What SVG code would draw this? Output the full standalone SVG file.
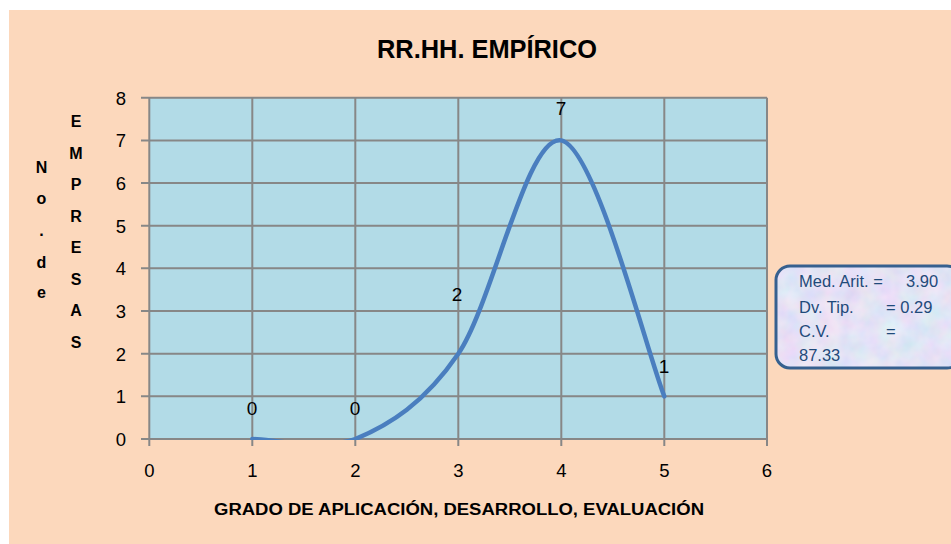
<svg xmlns="http://www.w3.org/2000/svg" width="951" height="544" viewBox="0 0 951 544">
<style>
.tick{font-family:"Liberation Sans",Arial,sans-serif;font-size:18.5px;fill:#000}
.lbl{font-family:"Liberation Sans",Arial,sans-serif;font-size:19px;fill:#000;text-anchor:middle}
.ylab{font-family:"Liberation Sans",Arial,sans-serif;font-size:16px;font-weight:bold;fill:#000;text-anchor:middle}
.grid{stroke:#878787;stroke-width:2;fill:none}
.box{font-family:"Liberation Sans",Arial,sans-serif;font-size:16.5px;fill:#1F4A7A}
</style>
<defs>
<clipPath id="plotclip"><rect x="149" y="97" width="619" height="343"/></clipPath>
<clipPath id="boxclip"><rect x="776" y="266" width="185" height="102" rx="14"/></clipPath>
<linearGradient id="boxg" x1="0" y1="0" x2="1" y2="1">
<stop offset="0" stop-color="#D3DCF2"/>
<stop offset="0.4" stop-color="#DCD3EE"/>
<stop offset="0.7" stop-color="#CFE1F2"/>
<stop offset="1" stop-color="#DED0EC"/>
</linearGradient>
<filter id="tex" x="0" y="0" width="1" height="1">
<feTurbulence type="fractalNoise" baseFrequency="0.05" numOctaves="3" seed="7"/>
<feColorMatrix type="matrix" values="0.6 0 0 0 0.55  0 0.35 0 0 0.65  0 0 0.25 0 0.82  0 0 0 0 0.6"/>
</filter>
</defs>
<rect x="0" y="0" width="951" height="544" fill="#FFFFFF"/>
<rect x="9" y="10" width="942" height="534" fill="#FCD8BC"/>
<text x="487" y="58" font-family="'Liberation Sans',Arial,sans-serif" font-size="26" font-weight="bold" text-anchor="middle" textLength="220" lengthAdjust="spacingAndGlyphs">RR.HH. EMPÍRICO</text>
<g id="plot">
<rect x="149.3" y="97.7" width="617.7" height="341.3" fill="#B2DBE7"/>
<g class="grid">
<path d="M141 97.7H767 M141 140.4H767 M141 183H767 M141 225.7H767 M141 268.3H767 M141 311H767 M141 353.7H767 M141 396.3H767 M141 439H767"/>
<path d="M252.3 97.7V446 M355.3 97.7V446 M458.3 97.7V446 M561.3 97.7V446 M664.3 97.7V446 M767 97.7V446 M149.3 97.7V446"/>
</g>
</g>
<g id="yticks" class="tick" text-anchor="end">
<text x="126" y="105">8</text>
<text x="126" y="147.2">7</text>
<text x="126" y="189.8">6</text>
<text x="126" y="232.5">5</text>
<text x="126" y="275.1">4</text>
<text x="126" y="317.8">3</text>
<text x="126" y="360.5">2</text>
<text x="126" y="403.1">1</text>
<text x="126" y="445.8">0</text>
</g>
<g id="xticks" class="tick" text-anchor="middle">
<text x="149.3" y="477">0</text>
<text x="252.3" y="477">1</text>
<text x="355.3" y="477">2</text>
<text x="458.3" y="477">3</text>
<text x="561.3" y="477">4</text>
<text x="664.3" y="477">5</text>
<text x="767" y="477">6</text>
</g>
<g id="connectors">
<path clip-path="url(#plotclip)" d="M252.3 439 C269.5 439 321 451 355.3 439 C389.6 424.8 424 403.5 458.3 353.7 C492.6 303.9 527 133.3 561.3 140.4 C595.6 147.5 647.1 353.6 664.3 396.3" fill="none" stroke="#4A7EBF" stroke-width="4.5" stroke-linecap="round" stroke-linejoin="round"/>
</g>
<g id="datalabels" class="lbl">
<text x="252" y="415">0</text>
<text x="355" y="415">0</text>
<text x="457" y="301">2</text>
<text x="561" y="115">7</text>
<text x="664" y="373">1</text>
</g>
<g id="ytitle">
<text class="ylab" x="41.5" y="173">N</text>
<text class="ylab" x="41.5" y="204">o</text>
<text class="ylab" x="41.5" y="236">.</text>
<text class="ylab" x="41.5" y="268">d</text>
<text class="ylab" x="41.5" y="298">e</text>
<text class="ylab" x="76" y="127">E</text>
<text class="ylab" x="76" y="158.5">M</text>
<text class="ylab" x="76" y="190">P</text>
<text class="ylab" x="76" y="221.5">R</text>
<text class="ylab" x="76" y="253">E</text>
<text class="ylab" x="76" y="284.5">S</text>
<text class="ylab" x="76" y="316">A</text>
<text class="ylab" x="76" y="347.5">S</text>
</g>
<g id="xtitle">
<text x="459" y="515" font-family="'Liberation Sans',Arial,sans-serif" font-size="16" font-weight="bold" text-anchor="middle" textLength="490" lengthAdjust="spacingAndGlyphs">GRADO DE APLICACIÓN, DESARROLLO, EVALUACIÓN</text>
</g>
<g id="statsbox">
<rect x="776" y="266" width="185" height="102" rx="14" fill="url(#boxg)"/>
<rect x="776" y="266" width="185" height="102" clip-path="url(#boxclip)" filter="url(#tex)"/>
<rect x="776" y="266" width="185" height="102" rx="14" fill="none" stroke="#36608F" stroke-width="3"/>
<text class="box" x="799" y="287">Med. Arit. =<tspan x="906">3.90</tspan></text>
<text class="box" x="799" y="313">Dv. Tip.<tspan x="886">= 0.29</tspan></text>
<text class="box" x="799" y="337">C.V.<tspan x="886">=</tspan></text>
<text class="box" x="799" y="361">87.33</text>
</g>
</svg>
